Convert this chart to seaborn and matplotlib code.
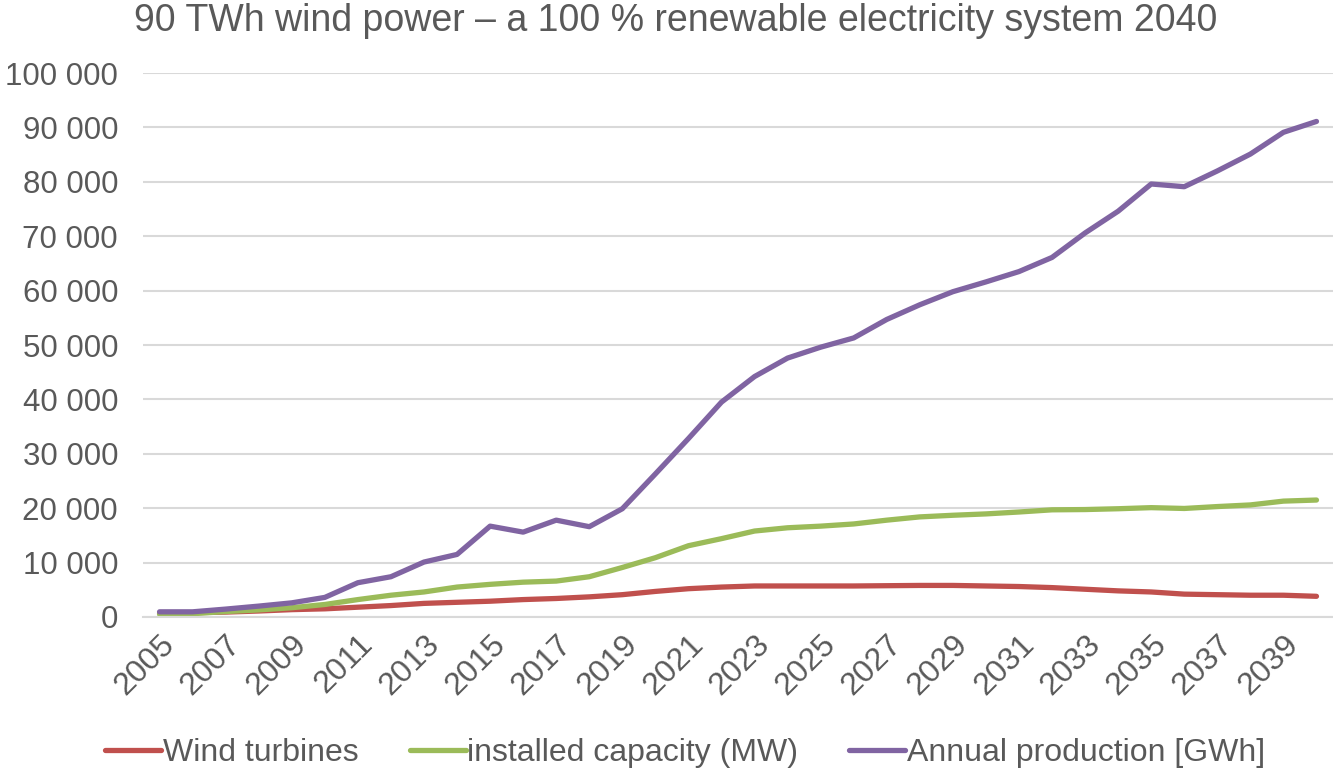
import pandas as pd
import matplotlib.pyplot as plt
import seaborn as sns
from matplotlib.ticker import FuncFormatter, FixedLocator


# Values
years = list(range(2005, 2041))

wind_turbines = [700, 800, 900, 1100, 1350, 1500, 1800, 2100, 2500, 2700,
                 2900, 3200, 3400, 3700, 4100, 4700, 5200, 5500, 5700, 5700,
                 5700, 5700, 5750, 5800, 5800, 5700, 5600, 5400, 5100, 4800,
                 4600, 4200, 4100, 4000, 4000, 3800]

installed_capacity = [500, 600, 1000, 1300, 1700, 2300, 3200, 4000, 4600, 5500,
                      6000, 6400, 6600, 7400, 9100, 10900, 13100, 14400, 15800, 16400,
                      16700, 17100, 17800, 18400, 18700, 18950, 19300, 19700, 19750, 19900,
                      20100, 19950, 20300, 20600, 21300, 21500]

annual_production = [950, 950, 1450, 2000, 2600, 3600, 6300, 7400, 10100, 11500,
                     16700, 15600, 17800, 16600, 19900, 26300, 32800, 39500, 44200, 47600,
                     49600, 51300, 54700, 57400, 59800, 61600, 63500, 66100, 70600, 74600,
                     79600, 79100, 82000, 85100, 89100, 91100]

series_names = ['Wind turbines', 'installed capacity (MW)', 'Annual production [GWh]']
colors = ['#C0504D', '#9BBB59', '#8064A2']

df = pd.DataFrame({
    'Year': years * 3,
    'Value': wind_turbines + installed_capacity + annual_production,
    'Series': [series_names[0]] * len(years) + [series_names[1]] * len(years) + [series_names[2]] * len(years),
})

sns.set_style('white')
plt.rcParams['font.family'] = ['Liberation Sans', 'DejaVu Sans']
text_color = '#595959'

fig = plt.figure(figsize=(13.33, 7.72), dpi=100)
ax = fig.add_axes([0.1073, 0.2008, 0.8927, 0.7046])

sns.lineplot(data=df, x='Year', y='Value', hue='Series', palette=colors,
             hue_order=series_names, linewidth=3.8, ax=ax, legend=False)
for line in ax.lines:
    line.set_solid_capstyle('round')

ax.set_xlim(2004.5, 2040.5)
ax.set_ylim(0, 100000)
ax.set_yticks(range(0, 100001, 10000))
ax.yaxis.set_major_formatter(FuncFormatter(lambda v, p: f'{int(v):,}'.replace(',', ' ')))
ax.xaxis.set_major_locator(FixedLocator(years[::2]))
ax.set_xticklabels([str(y) for y in years[::2]], rotation=45, ha='right', rotation_mode='anchor')

ax.grid(axis='y', color='#D9D9D9', linewidth=1.5)
ax.set_axisbelow(True)
for s in ['top', 'right', 'left']:
    ax.spines[s].set_visible(False)
ax.spines['bottom'].set_color('#D9D9D9')
ax.spines['bottom'].set_linewidth(1.5)
ax.tick_params(axis='both', length=0, colors=text_color)
ax.tick_params(axis='y', pad=18, labelsize=22.5)
ax.tick_params(axis='x', pad=9, labelsize=23)
ax.set_xlabel('')
ax.set_ylabel('')

fig.text(0.507, 1 - 21 / 772, '90 TWh wind power \u2013 a 100 % renewable electricity system 2040',
         ha='center', va='center', fontsize=27, color=text_color)

handles = [plt.Line2D([0], [0], color=c, linewidth=3.8, solid_capstyle='round') for c in colors]
fig.legend(handles, series_names, loc='center', bbox_to_anchor=(0.514, 0.024), ncol=3,
           frameon=False, fontsize=23, handlelength=1.75, handletextpad=0.05,
           columnspacing=1.6, labelcolor=text_color)

plt.savefig('out.png', dpi=100)
